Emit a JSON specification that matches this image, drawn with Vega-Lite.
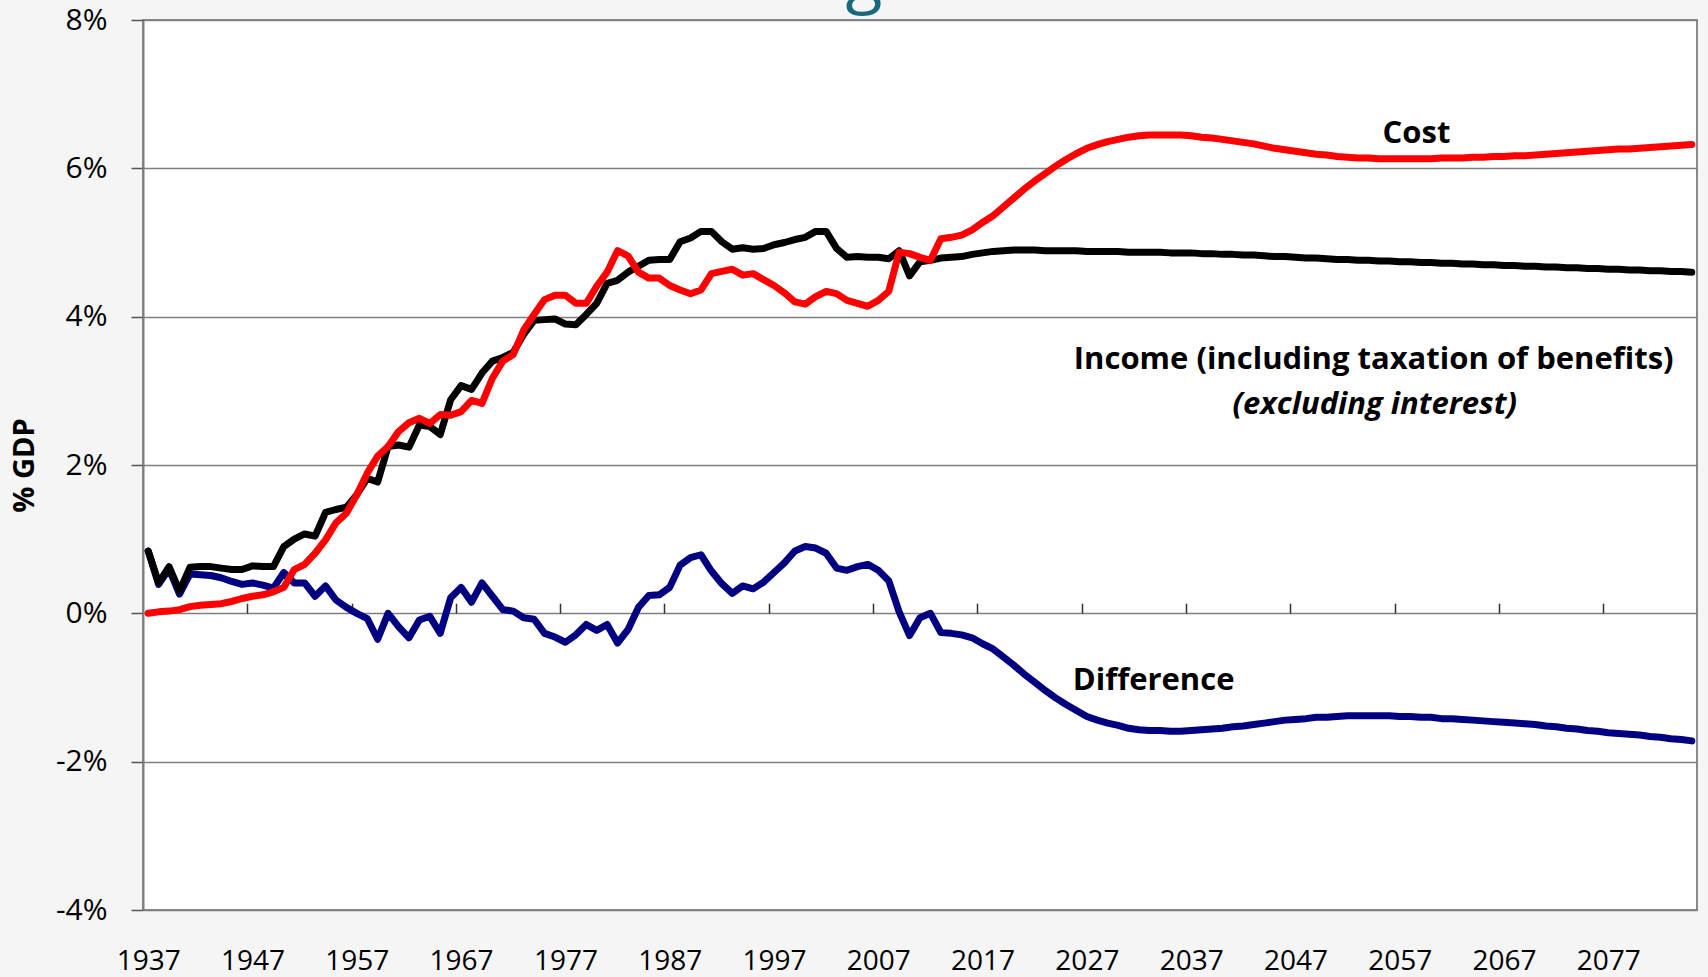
{
  "$schema": "https://vega.github.io/schema/vega-lite/v6.json",
  "width": 1554,
  "height": 890,
  "autosize": {"type": "none"},
  "padding": {"left": 143, "top": 20, "right": 11, "bottom": 67},
  "background": "#f5f5f5",
  "title": {"text": "g", "fontSize": 68, "font": "Open Sans", "fontWeight": "normal", "color": "#17697e", "anchor": "middle", "baseline": "alphabetic", "frame": "group", "offset": 0, "dx": -56, "dy": 63},
  "config": {
    "view": {"fill": "white", "stroke": "#8a8a8a", "strokeWidth": 2},
    "font": "Open Sans"
  },
  "data": {
    "values": [
      {"year": 1937, "income": 0.84, "cost": 0.00, "diff": 0.84},
      {"year": 1938, "income": 0.41, "cost": 0.02, "diff": 0.39},
      {"year": 1939, "income": 0.63, "cost": 0.03, "diff": 0.60},
      {"year": 1940, "income": 0.30, "cost": 0.05, "diff": 0.26},
      {"year": 1941, "income": 0.62, "cost": 0.09, "diff": 0.53},
      {"year": 1942, "income": 0.63, "cost": 0.11, "diff": 0.52},
      {"year": 1943, "income": 0.63, "cost": 0.12, "diff": 0.51},
      {"year": 1944, "income": 0.61, "cost": 0.13, "diff": 0.48},
      {"year": 1945, "income": 0.59, "cost": 0.16, "diff": 0.43},
      {"year": 1946, "income": 0.59, "cost": 0.20, "diff": 0.39},
      {"year": 1947, "income": 0.64, "cost": 0.23, "diff": 0.41},
      {"year": 1948, "income": 0.63, "cost": 0.25, "diff": 0.38},
      {"year": 1949, "income": 0.63, "cost": 0.29, "diff": 0.34},
      {"year": 1950, "income": 0.90, "cost": 0.35, "diff": 0.55},
      {"year": 1951, "income": 1.00, "cost": 0.59, "diff": 0.41},
      {"year": 1952, "income": 1.07, "cost": 0.66, "diff": 0.41},
      {"year": 1953, "income": 1.04, "cost": 0.81, "diff": 0.23},
      {"year": 1954, "income": 1.36, "cost": 0.99, "diff": 0.37},
      {"year": 1955, "income": 1.40, "cost": 1.22, "diff": 0.18},
      {"year": 1956, "income": 1.43, "cost": 1.35, "diff": 0.08},
      {"year": 1957, "income": 1.60, "cost": 1.60, "diff": 0.00},
      {"year": 1958, "income": 1.82, "cost": 1.89, "diff": -0.07},
      {"year": 1959, "income": 1.77, "cost": 2.12, "diff": -0.35},
      {"year": 1960, "income": 2.25, "cost": 2.25, "diff": 0.00},
      {"year": 1961, "income": 2.27, "cost": 2.45, "diff": -0.18},
      {"year": 1962, "income": 2.24, "cost": 2.57, "diff": -0.33},
      {"year": 1963, "income": 2.54, "cost": 2.63, "diff": -0.09},
      {"year": 1964, "income": 2.52, "cost": 2.56, "diff": -0.04},
      {"year": 1965, "income": 2.41, "cost": 2.68, "diff": -0.27},
      {"year": 1966, "income": 2.88, "cost": 2.67, "diff": 0.21},
      {"year": 1967, "income": 3.07, "cost": 2.72, "diff": 0.35},
      {"year": 1968, "income": 3.02, "cost": 2.87, "diff": 0.15},
      {"year": 1969, "income": 3.24, "cost": 2.83, "diff": 0.41},
      {"year": 1970, "income": 3.40, "cost": 3.17, "diff": 0.23},
      {"year": 1971, "income": 3.45, "cost": 3.40, "diff": 0.05},
      {"year": 1972, "income": 3.52, "cost": 3.49, "diff": 0.03},
      {"year": 1973, "income": 3.76, "cost": 3.82, "diff": -0.06},
      {"year": 1974, "income": 3.95, "cost": 4.03, "diff": -0.08},
      {"year": 1975, "income": 3.96, "cost": 4.23, "diff": -0.27},
      {"year": 1976, "income": 3.97, "cost": 4.29, "diff": -0.32},
      {"year": 1977, "income": 3.90, "cost": 4.29, "diff": -0.39},
      {"year": 1978, "income": 3.89, "cost": 4.18, "diff": -0.29},
      {"year": 1979, "income": 4.03, "cost": 4.18, "diff": -0.15},
      {"year": 1980, "income": 4.18, "cost": 4.41, "diff": -0.23},
      {"year": 1981, "income": 4.45, "cost": 4.60, "diff": -0.15},
      {"year": 1982, "income": 4.49, "cost": 4.89, "diff": -0.40},
      {"year": 1983, "income": 4.60, "cost": 4.82, "diff": -0.22},
      {"year": 1984, "income": 4.68, "cost": 4.60, "diff": 0.08},
      {"year": 1985, "income": 4.76, "cost": 4.52, "diff": 0.24},
      {"year": 1986, "income": 4.77, "cost": 4.52, "diff": 0.25},
      {"year": 1987, "income": 4.77, "cost": 4.42, "diff": 0.35},
      {"year": 1988, "income": 5.01, "cost": 4.36, "diff": 0.65},
      {"year": 1989, "income": 5.06, "cost": 4.31, "diff": 0.75},
      {"year": 1990, "income": 5.15, "cost": 4.36, "diff": 0.79},
      {"year": 1991, "income": 5.15, "cost": 4.58, "diff": 0.57},
      {"year": 1992, "income": 5.01, "cost": 4.61, "diff": 0.40},
      {"year": 1993, "income": 4.91, "cost": 4.64, "diff": 0.27},
      {"year": 1994, "income": 4.93, "cost": 4.56, "diff": 0.37},
      {"year": 1995, "income": 4.91, "cost": 4.58, "diff": 0.33},
      {"year": 1996, "income": 4.92, "cost": 4.50, "diff": 0.42},
      {"year": 1997, "income": 4.97, "cost": 4.42, "diff": 0.55},
      {"year": 1998, "income": 5.00, "cost": 4.32, "diff": 0.68},
      {"year": 1999, "income": 5.04, "cost": 4.20, "diff": 0.84},
      {"year": 2000, "income": 5.07, "cost": 4.17, "diff": 0.90},
      {"year": 2001, "income": 5.15, "cost": 4.27, "diff": 0.88},
      {"year": 2002, "income": 5.15, "cost": 4.34, "diff": 0.81},
      {"year": 2003, "income": 4.92, "cost": 4.31, "diff": 0.61},
      {"year": 2004, "income": 4.80, "cost": 4.22, "diff": 0.58},
      {"year": 2005, "income": 4.81, "cost": 4.18, "diff": 0.63},
      {"year": 2006, "income": 4.80, "cost": 4.14, "diff": 0.66},
      {"year": 2007, "income": 4.80, "cost": 4.22, "diff": 0.58},
      {"year": 2008, "income": 4.78, "cost": 4.34, "diff": 0.44},
      {"year": 2009, "income": 4.89, "cost": 4.87, "diff": 0.02},
      {"year": 2010, "income": 4.55, "cost": 4.85, "diff": -0.30},
      {"year": 2011, "income": 4.74, "cost": 4.80, "diff": -0.06},
      {"year": 2012, "income": 4.76, "cost": 4.76, "diff": 0.00},
      {"year": 2013, "income": 4.79, "cost": 5.05, "diff": -0.26},
      {"year": 2014, "income": 4.80, "cost": 5.07, "diff": -0.27},
      {"year": 2015, "income": 4.81, "cost": 5.10, "diff": -0.29},
      {"year": 2016, "income": 4.84, "cost": 5.17, "diff": -0.33},
      {"year": 2017, "income": 4.86, "cost": 5.27, "diff": -0.41},
      {"year": 2018, "income": 4.88, "cost": 5.36, "diff": -0.48},
      {"year": 2019, "income": 4.89, "cost": 5.48, "diff": -0.59},
      {"year": 2020, "income": 4.90, "cost": 5.60, "diff": -0.70},
      {"year": 2021, "income": 4.90, "cost": 5.72, "diff": -0.82},
      {"year": 2022, "income": 4.90, "cost": 5.83, "diff": -0.93},
      {"year": 2023, "income": 4.89, "cost": 5.93, "diff": -1.04},
      {"year": 2024, "income": 4.89, "cost": 6.03, "diff": -1.14},
      {"year": 2025, "income": 4.89, "cost": 6.12, "diff": -1.23},
      {"year": 2026, "income": 4.89, "cost": 6.20, "diff": -1.31},
      {"year": 2027, "income": 4.88, "cost": 6.27, "diff": -1.39},
      {"year": 2028, "income": 4.88, "cost": 6.32, "diff": -1.44},
      {"year": 2029, "income": 4.88, "cost": 6.36, "diff": -1.48},
      {"year": 2030, "income": 4.88, "cost": 6.39, "diff": -1.51},
      {"year": 2031, "income": 4.87, "cost": 6.42, "diff": -1.55},
      {"year": 2032, "income": 4.87, "cost": 6.44, "diff": -1.57},
      {"year": 2033, "income": 4.87, "cost": 6.45, "diff": -1.58},
      {"year": 2034, "income": 4.87, "cost": 6.45, "diff": -1.58},
      {"year": 2035, "income": 4.86, "cost": 6.45, "diff": -1.59},
      {"year": 2036, "income": 4.86, "cost": 6.45, "diff": -1.59},
      {"year": 2037, "income": 4.86, "cost": 6.44, "diff": -1.58},
      {"year": 2038, "income": 4.85, "cost": 6.42, "diff": -1.57},
      {"year": 2039, "income": 4.85, "cost": 6.41, "diff": -1.56},
      {"year": 2040, "income": 4.84, "cost": 6.39, "diff": -1.55},
      {"year": 2041, "income": 4.84, "cost": 6.37, "diff": -1.53},
      {"year": 2042, "income": 4.83, "cost": 6.35, "diff": -1.52},
      {"year": 2043, "income": 4.83, "cost": 6.33, "diff": -1.50},
      {"year": 2044, "income": 4.82, "cost": 6.30, "diff": -1.48},
      {"year": 2045, "income": 4.81, "cost": 6.27, "diff": -1.46},
      {"year": 2046, "income": 4.81, "cost": 6.25, "diff": -1.44},
      {"year": 2047, "income": 4.80, "cost": 6.23, "diff": -1.43},
      {"year": 2048, "income": 4.79, "cost": 6.21, "diff": -1.42},
      {"year": 2049, "income": 4.79, "cost": 6.19, "diff": -1.40},
      {"year": 2050, "income": 4.78, "cost": 6.18, "diff": -1.40},
      {"year": 2051, "income": 4.77, "cost": 6.16, "diff": -1.39},
      {"year": 2052, "income": 4.77, "cost": 6.15, "diff": -1.38},
      {"year": 2053, "income": 4.76, "cost": 6.14, "diff": -1.38},
      {"year": 2054, "income": 4.76, "cost": 6.14, "diff": -1.38},
      {"year": 2055, "income": 4.75, "cost": 6.13, "diff": -1.38},
      {"year": 2056, "income": 4.75, "cost": 6.13, "diff": -1.38},
      {"year": 2057, "income": 4.74, "cost": 6.13, "diff": -1.39},
      {"year": 2058, "income": 4.74, "cost": 6.13, "diff": -1.39},
      {"year": 2059, "income": 4.73, "cost": 6.13, "diff": -1.40},
      {"year": 2060, "income": 4.73, "cost": 6.13, "diff": -1.40},
      {"year": 2061, "income": 4.72, "cost": 6.14, "diff": -1.42},
      {"year": 2062, "income": 4.72, "cost": 6.14, "diff": -1.42},
      {"year": 2063, "income": 4.71, "cost": 6.14, "diff": -1.43},
      {"year": 2064, "income": 4.71, "cost": 6.15, "diff": -1.44},
      {"year": 2065, "income": 4.70, "cost": 6.15, "diff": -1.45},
      {"year": 2066, "income": 4.70, "cost": 6.16, "diff": -1.46},
      {"year": 2067, "income": 4.69, "cost": 6.16, "diff": -1.47},
      {"year": 2068, "income": 4.69, "cost": 6.17, "diff": -1.48},
      {"year": 2069, "income": 4.68, "cost": 6.17, "diff": -1.49},
      {"year": 2070, "income": 4.68, "cost": 6.18, "diff": -1.50},
      {"year": 2071, "income": 4.67, "cost": 6.19, "diff": -1.52},
      {"year": 2072, "income": 4.67, "cost": 6.20, "diff": -1.53},
      {"year": 2073, "income": 4.66, "cost": 6.21, "diff": -1.55},
      {"year": 2074, "income": 4.66, "cost": 6.22, "diff": -1.56},
      {"year": 2075, "income": 4.65, "cost": 6.23, "diff": -1.58},
      {"year": 2076, "income": 4.65, "cost": 6.24, "diff": -1.59},
      {"year": 2077, "income": 4.64, "cost": 6.25, "diff": -1.61},
      {"year": 2078, "income": 4.64, "cost": 6.26, "diff": -1.62},
      {"year": 2079, "income": 4.63, "cost": 6.26, "diff": -1.63},
      {"year": 2080, "income": 4.63, "cost": 6.27, "diff": -1.64},
      {"year": 2081, "income": 4.62, "cost": 6.28, "diff": -1.66},
      {"year": 2082, "income": 4.62, "cost": 6.29, "diff": -1.67},
      {"year": 2083, "income": 4.61, "cost": 6.30, "diff": -1.69},
      {"year": 2084, "income": 4.61, "cost": 6.31, "diff": -1.70},
      {"year": 2085, "income": 4.60, "cost": 6.32, "diff": -1.72}
    ]
  },
  "resolve": {"axis": {"x": "independent"}},
  "layer": [
    {
      "mark": {"type": "line", "color": "#000080", "strokeWidth": 7, "strokeJoin": "round", "strokeCap": "round"},
      "encoding": {
        "x": {
          "field": "year", "type": "quantitative",
          "scale": {"domain": [1936.5, 2085.5], "nice": false, "zero": false},
          "axis": {
            "values": [1937, 1947, 1957, 1967, 1977, 1987, 1997, 2007, 2017, 2027, 2037, 2047, 2057, 2067, 2077],
            "format": "d", "ticks": false, "tickSize": 0, "domain": false, "grid": false,
            "labelFont": "Open Sans", "labelFontSize": 28, "labelColor": "#000000",
            "labelBaseline": "middle", "labelPadding": 51, "labelFlush": false, "labelOverlap": false,
            "title": null
          }
        },
        "y": {
          "field": "diff", "type": "quantitative",
          "scale": {"domain": [-4, 8], "nice": false, "zero": false},
          "axis": {
            "values": [-4, -2, 0, 2, 4, 6, 8],
            "labelExpr": "datum.value + '%'",
            "grid": true, "gridColor": "#7f7f7f", "gridWidth": 1.5,
            "domain": true, "domainColor": "#7f7f7f", "domainWidth": 2,
            "ticks": true, "tickSize": 12, "tickColor": "#555555", "tickWidth": 1.5,
            "labelFont": "Open Sans", "labelFontSize": 30, "labelColor": "#000000",
            "labelPadding": 24, "labelFlush": false, "labelOverlap": false,
            "title": "% GDP", "titleFont": "Open Sans", "titleFontSize": 29, "titleFontWeight": "bold", "titleColor": "#000000",
            "titleAngle": -90, "titleX": -119, "titleY": 445, "titleAlign": "center", "titleBaseline": "middle"
          }
        }
      }
    },
    {
      "mark": {"type": "line", "color": "#000000", "strokeWidth": 7, "strokeJoin": "round", "strokeCap": "round"},
      "encoding": {
        "x": {
          "field": "year", "type": "quantitative",
          "scale": {"domain": [1936.5, 2085.5], "nice": false, "zero": false},
          "axis": {
            "values": [1946.5, 1956.5, 1966.5, 1976.5, 1986.5, 1996.5, 2006.5, 2016.5, 2026.5, 2036.5, 2046.5, 2056.5, 2066.5, 2076.5],
            "labels": false, "domain": false, "grid": false,
            "ticks": true, "tickSize": 10, "tickColor": "#333333", "tickWidth": 1.5,
            "offset": -593.2, "title": null
          }
        },
        "y": {
          "field": "income", "type": "quantitative",
          "scale": {"domain": [-4, 8], "nice": false, "zero": false}
        }
      }
    },
    {
      "mark": {"type": "line", "color": "#ff0000", "strokeWidth": 7, "strokeJoin": "round", "strokeCap": "round"},
      "encoding": {
        "x": {
          "field": "year", "type": "quantitative",
          "scale": {"domain": [1936.5, 2085.5], "nice": false, "zero": false},
          "axis": null
        },
        "y": {
          "field": "cost", "type": "quantitative",
          "scale": {"domain": [-4, 8], "nice": false, "zero": false}
        }
      }
    },
    {
      "data": {
        "values": [
          {"label": "Cost", "year": 2058.6, "value": 6.46},
          {"label": "Income (including taxation of benefits)", "year": 2054.5, "value": 3.41},
          {"label": "Difference", "year": 2033.4, "value": -0.91}
        ]
      },
      "mark": {"type": "text", "font": "Open Sans", "fontSize": 31, "fontWeight": "bold", "color": "#000000", "align": "center", "baseline": "middle"},
      "encoding": {
        "x": {"field": "year", "type": "quantitative", "scale": {"domain": [1936.5, 2085.5], "nice": false, "zero": false}, "axis": null},
        "y": {"field": "value", "type": "quantitative", "scale": {"domain": [-4, 8], "nice": false, "zero": false}},
        "text": {"field": "label"}
      }
    },
    {
      "data": {
        "values": [
          {"label": "(excluding interest)", "year": 2054.6, "value": 2.81}
        ]
      },
      "mark": {"type": "text", "font": "Open Sans", "fontSize": 31, "fontWeight": "bold", "fontStyle": "italic", "color": "#000000", "align": "center", "baseline": "middle"},
      "encoding": {
        "x": {"field": "year", "type": "quantitative", "scale": {"domain": [1936.5, 2085.5], "nice": false, "zero": false}, "axis": null},
        "y": {"field": "value", "type": "quantitative", "scale": {"domain": [-4, 8], "nice": false, "zero": false}},
        "text": {"field": "label"}
      }
    }
  ]
}
